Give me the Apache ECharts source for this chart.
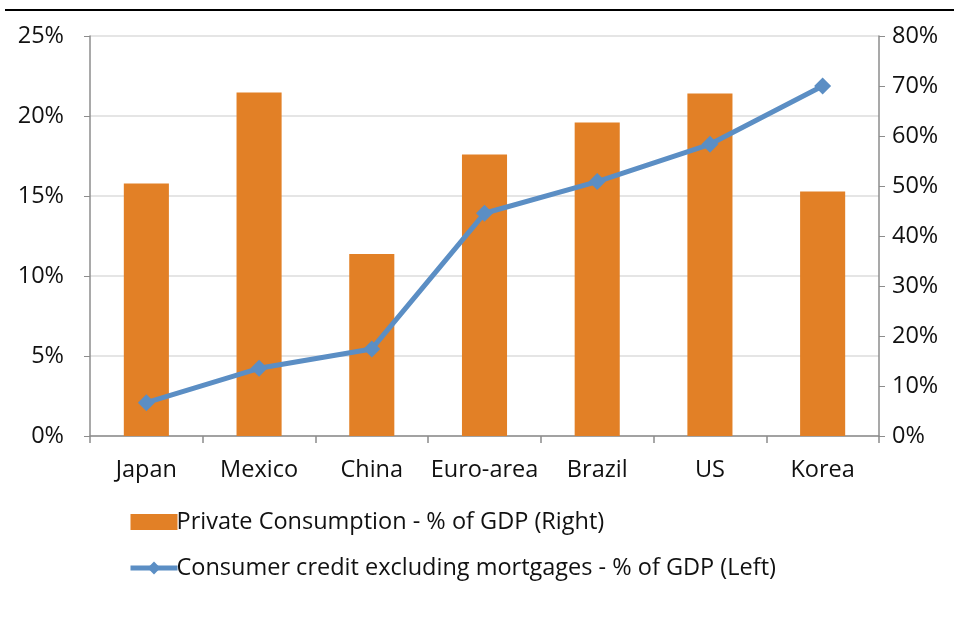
<!DOCTYPE html>
<html>
<head>
<meta charset="utf-8">
<script src="https://cdn.jsdelivr.net/npm/echarts@6/dist/echarts.min.js"></script>
<style>
  html, body { margin: 0; padding: 0; background: #fff; }
  #chart { width: 954px; height: 641px; }
</style>
</head>
<body>
<div id="chart"></div>
<script>
const countries = ["Japan", "Mexico", "China", "Euro-area", "Brazil", "US", "Korea"];
const privateConsumption = [50.5, 68.7, 36.4, 56.3, 62.7, 68.5, 48.9];
const consumerCredit = [2.08, 4.23, 5.44, 13.92, 15.9, 18.23, 21.88];

const font = "Open Sans";
const axisGray = "#8c8c8c";
const blue = "#5b8ec4";

let myChart = echarts.init(document.getElementById("chart"));
let option = {
  animation: false,
  textStyle: { fontFamily: font },
  graphic: [
    {
      type: "line",
      shape: { x1: 5, y1: 10, x2: 954, y2: 10 },
      style: { stroke: "#000", lineWidth: 2 },
    },
  ],
  grid: { left: 90, right: 75, top: 36, bottom: 205 },
  legend: {
    orient: "vertical",
    left: 128,
    top: 510,
    padding: 0,
    itemGap: 22,
    itemWidth: 47,
    itemHeight: 16,
    textStyle: { fontFamily: font, fontSize: 23.5, color: "#111", padding: [0, 0, 0, -6] },
    data: [
      { name: "Private Consumption - % of GDP (Right)", icon: "rect" },
      { name: "Consumer credit excluding mortgages - % of GDP (Left)", lineStyle: { width: 5 } },
    ],
  },
  xAxis: {
    type: "category",
    data: countries,
    axisLine: { lineStyle: { color: axisGray, width: 1.5 } },
    axisTick: { show: true, interval: 0, length: 7, lineStyle: { color: axisGray, width: 1.5 } },
    axisLabel: { interval: 0, fontSize: 23.5, color: "#111", margin: 22 },
  },
  yAxis: [
    {
      type: "value",
      min: 0,
      max: 25,
      interval: 5,
      position: "left",
      axisLine: { show: true, lineStyle: { color: axisGray, width: 1.5 } },
      axisTick: { show: true, length: 6, lineStyle: { color: axisGray } },
      axisLabel: { fontSize: 23.5, color: "#111", margin: 26, formatter: "{value}%" },
      splitLine: { lineStyle: { color: "#dcdcdc", width: 1.5 } },
    },
    {
      type: "value",
      min: 0,
      max: 80,
      interval: 10,
      position: "right",
      axisLine: { show: true, lineStyle: { color: axisGray, width: 1.5 } },
      axisTick: { show: true, length: 6, lineStyle: { color: axisGray } },
      axisLabel: { fontSize: 23.5, color: "#111", margin: 13, formatter: "{value}%" },
      splitLine: { show: false },
    },
  ],
  series: [
    {
      name: "Private Consumption - % of GDP (Right)",
      type: "bar",
      yAxisIndex: 1,
      barWidth: "40%",
      itemStyle: { color: "#e28026" },
      data: privateConsumption,
    },
    {
      name: "Consumer credit excluding mortgages - % of GDP (Left)",
      type: "line",
      yAxisIndex: 0,
      symbol: "diamond",
      symbolSize: 17,
      lineStyle: { color: blue, width: 5 },
      itemStyle: { color: blue },
      data: consumerCredit,
    },
  ],
};
myChart.setOption(option);
</script>
</body>
</html>
